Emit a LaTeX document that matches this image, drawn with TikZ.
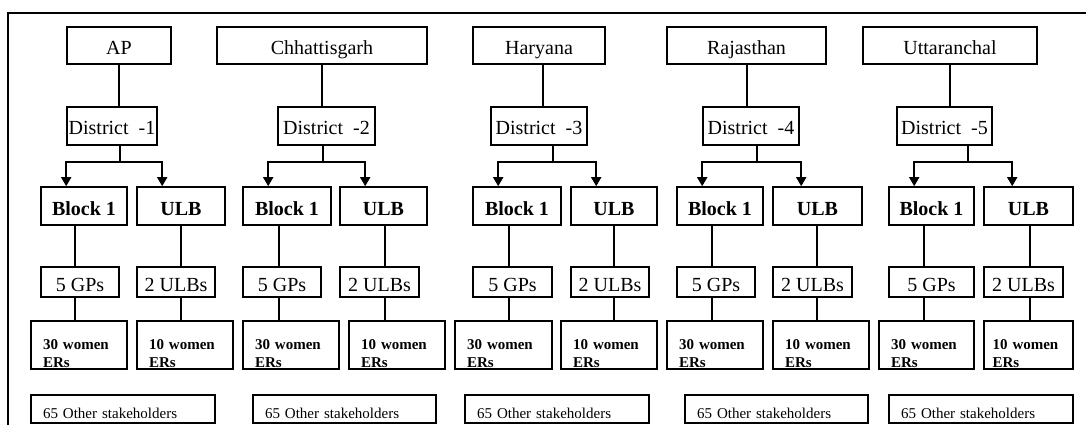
\documentclass[tikz,border=0pt]{standalone}
\usepackage{fontspec}
\setmainfont{Liberation Serif}
\usetikzlibrary{arrows.meta}

\begin{document}
\begin{tikzpicture}[
    x=1pt, y=-1pt,
    box/.style={rectangle, draw, line width=1.6pt, inner sep=0pt, align=center, text height=20pt, text depth=2pt, font=\fontsize{20}{24}\selectfont},
    state/.style={box, minimum height=37pt},
    dist/.style={box, minimum height=38pt},
    unit/.style={box, minimum height=38pt, font=\fontsize{20}{24}\selectfont\bfseries},
    count/.style={box, minimum height=30pt},
    women/.style={box, minimum height=48pt, text width=72pt, inner xsep=12pt, align=left, text height=14pt, text depth=6pt, font=\fontsize{15}{18}\selectfont\bfseries},
    other/.style={box, minimum height=28pt, text width=160pt, inner xsep=12pt, align=left, text height=20pt, text depth=2pt, font=\fontsize{15}{18}\selectfont},
    link/.style={line width=1.6pt},
    arrow/.style={-{Triangle[length=9pt, width=10pt]}, line width=1.6pt}
]
\useasboundingbox (0,0) rectangle (1086,425);
\draw[link] (8,425) -- (8,13) -- (1086,13);

\node[state, minimum width=104pt] (ap) at (119,45.5) {AP};
\node[state, minimum width=210pt] (chh) at (322,45.5) {Chhattisgarh};
\node[state, minimum width=132pt] (har) at (539,45.5) {Haryana};
\node[state, minimum width=159pt] (raj) at (746.5,45.5) {Rajasthan};
\node[state, minimum width=174pt] (utt) at (950,45.5) {Uttaranchal};

\node[dist, minimum width=90pt] (dist1) at (112,126) {District~~-1};
\node[dist, minimum width=97pt] (dist2) at (326.5,126) {District~~-2};
\node[dist, minimum width=96pt] (dist3) at (539,126) {District~~-3};
\node[dist, minimum width=96pt] (dist4) at (751,126) {District~~-4};
\node[dist, minimum width=95pt] (dist5) at (944.5,126) {District~~-5};

\node[unit, minimum width=86pt] (blk1) at (84,206) {Block 1};
\node[unit, minimum width=88pt] (ulb1) at (181,206) {ULB};
\node[unit, minimum width=88pt] (blk2) at (287,206) {Block 1};
\node[unit, minimum width=87pt] (ulb2) at (383.5,206) {ULB};
\node[unit, minimum width=88pt] (blk3) at (517,206) {Block 1};
\node[unit, minimum width=86pt] (ulb3) at (614,206) {ULB};
\node[unit, minimum width=86pt] (blk4) at (720,206) {Block 1};
\node[unit, minimum width=89pt] (ulb4) at (817.5,206) {ULB};
\node[unit, minimum width=85pt] (blk5) at (931.5,206) {Block 1};
\node[unit, minimum width=89pt] (ulb5) at (1028.5,206) {ULB};

\node[count, minimum width=78pt] (gp1) at (80,282) {5 GPs};
\node[count, minimum width=78pt] (ulbs1) at (176,282) {2 ULBs};
\node[count, minimum width=78pt] (gp2) at (282,282) {5 GPs};
\node[count, minimum width=79pt] (ulbs2) at (379.5,282) {2 ULBs};
\node[count, minimum width=79pt] (gp3) at (512.5,282) {5 GPs};
\node[count, minimum width=78pt] (ulbs3) at (610,282) {2 ULBs};
\node[count, minimum width=78pt] (gp4) at (716,282) {5 GPs};
\node[count, minimum width=79pt] (ulbs4) at (812.5,282) {2 ULBs};
\node[count, minimum width=85pt] (gp5) at (931.5,282) {5 GPs};
\node[count, minimum width=79pt] (ulbs5) at (1023.5,282) {2 ULBs};

\node[women] (wgp1) at (79,345) {30 women\\ERs};
\node[women] (wulb1) at (185,345) {10 women\\ERs};
\node[women] (wgp2) at (291,345) {30 women\\ERs};
\node[women] (wulb2) at (397,345) {10 women\\ERs};
\node[women, text width=73pt] (wgp3) at (503.5,345) {30 women\\ERs};
\node[women] (wulb3) at (609,345) {10 women\\ERs};
\node[women] (wgp4) at (715,345) {30 women\\ERs};
\node[women] (wulb4) at (821,345) {10 women\\ERs};
\node[women, text width=71pt] (wgp5) at (926.5,345) {30 women\\ERs};
\node[women, inner xsep=8.5pt] (wulb5) at (1028.5,345) {10 women\\ERs};

\node[other] (other1) at (123,409) {65 Other stakeholders};
\node[other, text width=159pt] (other2) at (344.5,409) {65 Other stakeholders};
\node[other] (other3) at (557,409) {65 Other stakeholders};
\node[other, text width=159pt] (other4) at (776.5,409) {65 Other stakeholders};
\node[other] (other5) at (981,409) {65 Other stakeholders};

\draw[link] (ap.south) -- (ap.south |- dist1.north);
\draw[link] (chh.south) -- (chh.south |- dist2.north);
\draw[link] (har.south -| 543,0) -- (dist3.north -| 543,0);
\draw[link] (raj.south -| 747,0) -- (dist4.north -| 747,0);
\draw[link] (utt.south) -- (utt.south |- dist5.north);

\draw[arrow] (dist1.south -| 120,0) -- (120,162) -| ([xshift=26pt]blk1.north west);
\draw[arrow] (dist1.south -| 120,0) -- (120,162) -| ([xshift=26pt]ulb1.north west);
\draw[arrow] (dist2.south -| 323,0) -- (323,162) -| ([xshift=26pt]blk2.north west);
\draw[arrow] (dist2.south -| 323,0) -- (323,162) -| ([xshift=26pt]ulb2.north west);
\draw[arrow] (dist3.south -| 553,0) -- (553,162) -| ([xshift=26pt]blk3.north west);
\draw[arrow] (dist3.south -| 553,0) -- (553,162) -| ([xshift=26pt]ulb3.north west);
\draw[arrow] (dist4.south -| 757,0) -- (757,162) -| ([xshift=26pt]blk4.north west);
\draw[arrow] (dist4.south -| 757,0) -- (757,162) -| ([xshift=29pt]ulb4.north west);
\draw[arrow] (dist5.south -| 968,0) -- (968,162) -| ([xshift=26pt]blk5.north west);
\draw[arrow] (dist5.south -| 968,0) -- (968,162) -| ([xshift=29pt]ulb5.north west);

\draw[link] (blk1.south -| 75,0) -- (gp1.north -| 75,0);
\draw[link] (gp1.south -| 75,0) -- (wgp1.north -| 75,0);
\draw[link] (blk2.south -| 279,0) -- (gp2.north -| 279,0);
\draw[link] (gp2.south -| 279,0) -- (wgp2.north -| 279,0);
\draw[link] (blk3.south -| 509,0) -- (gp3.north -| 509,0);
\draw[link] (gp3.south -| 509,0) -- (wgp3.north -| 509,0);
\draw[link] (blk4.south -| 712,0) -- (gp4.north -| 712,0);
\draw[link] (gp4.south -| 712,0) -- (wgp4.north -| 712,0);
\draw[link] (blk5.south -| 924,0) -- (gp5.north -| 924,0);
\draw[link] (gp5.south -| 924,0) -- (wgp5.north -| 924,0);

\draw[link] (ulb1.south) -- (ulb1.south |- ulbs1.north);
\draw[link] (ulbs1.south -| ulb1) -- (wulb1.north -| ulb1);
\draw[link] (ulb2.south -| 385,0) -- (ulbs2.north -| 385,0);
\draw[link] (ulbs2.south -| 385,0) -- (wulb2.north -| 385,0);
\draw[link] (ulb3.south) -- (ulb3.south |- ulbs3.north);
\draw[link] (ulbs3.south -| ulb3) -- (wulb3.north -| ulb3);
\draw[link] (ulb4.south -| 817,0) -- (ulbs4.north -| 817,0);
\draw[link] (ulbs4.south -| 817,0) -- (wulb4.north -| 817,0);
\draw[link] (ulb5.south -| 1030,0) -- (ulbs5.north -| 1030,0);
\draw[link] (ulbs5.south -| 1030,0) -- (wulb5.north -| 1030,0);
\end{tikzpicture}
\end{document}
